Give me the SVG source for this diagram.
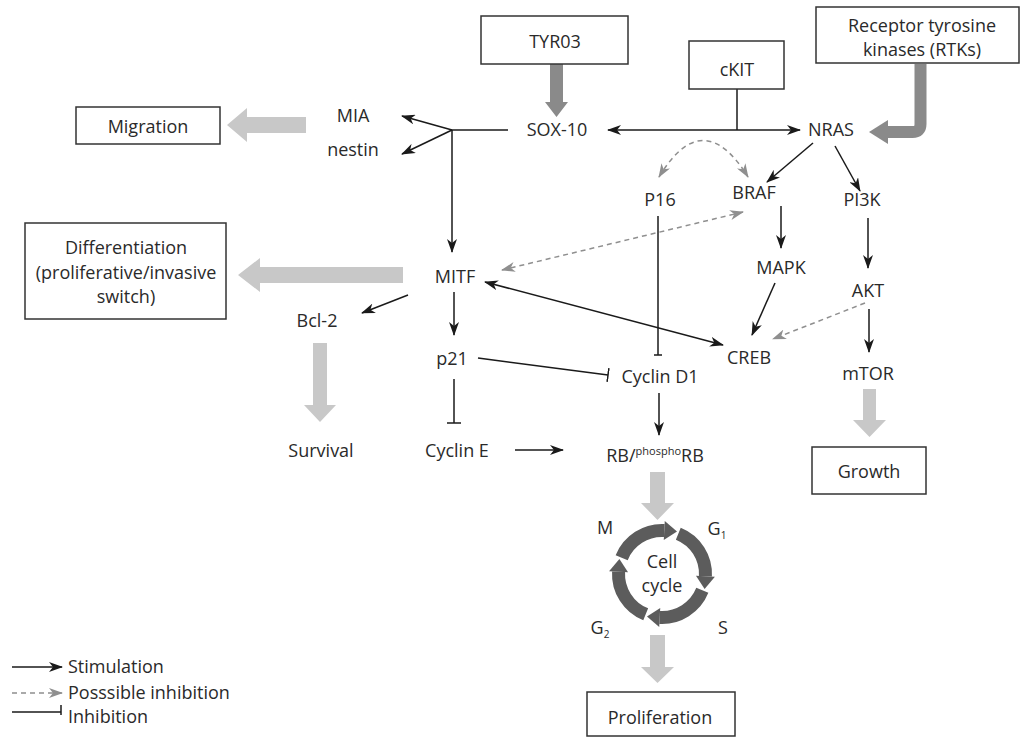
<svg xmlns="http://www.w3.org/2000/svg" xmlns:xlink="http://www.w3.org/1999/xlink" width="1027" height="738" viewBox="0 0 1027 738">
  <style>
    text { font-family: "Open Sans", "Liberation Sans", sans-serif; font-size: 18px; fill: #2a2a2a; text-anchor: middle; }
    .box { fill: #ffffff; stroke: #333333; stroke-width: 1.5; }
    .link { fill: none; stroke: #1a1a1a; stroke-width: 1.5; }
    .stim { marker-end: url(#arrow); }
    .both { marker-start: url(#arrow); marker-end: url(#arrow); }
    .inh { marker-end: url(#bar); }
    .dash { fill: none; stroke: #8f8f8f; stroke-width: 1.5; stroke-dasharray: 5 4; }
    .fat { fill: #c8c8c8; }
    .fatdark { fill: #8a8a8a; }
    .ring { fill: #5c5c5c; }
    .legend { text-anchor: start; }
  </style>
  <defs>
    <marker id="arrow" viewBox="0 0 14 10" refX="13" refY="5" markerWidth="14" markerHeight="10" markerUnits="userSpaceOnUse" orient="auto-start-reverse">
      <path d="M0,0 L14,5 L0,10 L4,5 z" fill="#1a1a1a"/>
    </marker>
    <marker id="garrow" viewBox="0 0 14 10" refX="13" refY="5" markerWidth="14" markerHeight="10" markerUnits="userSpaceOnUse" orient="auto-start-reverse">
      <path d="M0,0 L14,5 L0,10 L4,5 z" fill="#8f8f8f"/>
    </marker>
    <marker id="bar" viewBox="-1 -8 2 16" refX="0" refY="0" markerWidth="2" markerHeight="16" markerUnits="userSpaceOnUse" orient="auto">
      <path d="M0,-7 V7" stroke="#1a1a1a" stroke-width="1.5"/>
    </marker>
    <!-- one quarter of the cell-cycle ring: arc shaft plus curved arrowhead -->
    <g id="seg" class="ring">
      <path d="M-40.33,-16.30 A43.5,43.5 0 0 1 2.28,-43.44" fill="none" stroke="#5c5c5c" stroke-width="13"/>
      <polygon points="1.78,-33.95 2.77,-52.93 15,-42.6"/>
    </g>
  </defs>

  <rect width="1027" height="738" fill="#ffffff"/>

  <!-- connectors -->
  <g id="connectors">
    <path class="link" d="M508,130 H452"/>
    <path class="link stim" d="M452,130 L402,116"/>
    <path class="link stim" d="M452,130 L402,154"/>
    <path class="link stim" d="M452,130 V252"/>
    <path class="link both" d="M608,130 H800"/>
    <path class="link" d="M737,89 V130"/>
    <path class="link stim" d="M813,143 L767,182"/>
    <path class="link stim" d="M835,146 L860,191"/>
    <path class="link stim" d="M868,218 V268"/>
    <path class="link stim" d="M869,309 V352"/>
    <path class="link stim" d="M781,206 V248"/>
    <path class="link stim" d="M775,283 L752,335"/>
    <path class="link both" d="M485,282 L723,345"/>
    <path class="link stim" d="M454,292 V335"/>
    <path class="link stim" d="M408,295 L362,313"/>
    <path class="link inh" d="M478,358 L608,375"/>
    <path class="link" d="M658,216 V355"/>
    <path class="link" d="M654,355 H662"/>
    <path class="link inh" d="M454,379 V423"/>
    <path class="link stim" d="M515,450 H563"/>
    <path class="link stim" d="M659,393 V435"/>
    <path class="dash" d="M743,212 L502,270" marker-start="url(#garrow)" marker-end="url(#garrow)"/>
    <path class="dash" d="M865,303 L773,339" marker-end="url(#garrow)"/>
    <path class="dash" d="M659,177 Q703,104 748,177" marker-start="url(#garrow)" marker-end="url(#garrow)"/>

    <!-- broad arrows -->
    <polygon class="fatdark" points="550,64 563,64 563,102 568,102 556.5,117 545,102 550,102"/>
    <path d="M920.5,64 V124 Q920.5,132 912.5,132 H886" fill="none" stroke="#8a8a8a" stroke-width="12"/>
    <polygon class="fatdark" points="888,120 888,144 869,132"/>
    <polygon class="fat" points="306,117 247,117 247,108 227,125 247,142 247,133 306,133"/>
    <polygon class="fat" points="403,267 260,267 260,258 238,275 260,292 260,283 403,283"/>
    <polygon class="fat" points="313,343 327,343 327,405 336,405 320,422 304,405 313,405"/>
    <polygon class="fat" points="863,389 876,389 876,420 886,420 869.5,437 853,420 863,420"/>
    <polygon class="fat" points="650,472 665,472 665,503 674,503 657.5,520 641,503 650,503"/>
    <polygon class="fat" points="650,635 665,635 665,667 674,667 657.5,683 641,667 650,667"/>
  </g>

  <!-- boxed nodes -->
  <g id="tyr03"><rect class="box" x="481" y="16" width="147" height="48"/><text x="555" y="48">TYR03</text></g>
  <g id="ckit"><rect class="box" x="689" y="41" width="95" height="48"/><text x="737" y="76">cKIT</text></g>
  <g id="rtk"><rect class="box" x="816" y="7" width="203" height="56"/><text x="922" y="32">Receptor tyrosine</text><text x="922" y="56">kinases (RTKs)</text></g>
  <g id="migration"><rect class="box" x="76" y="107" width="144" height="37"/><text x="148" y="133">Migration</text></g>
  <g id="differentiation"><rect class="box" x="25" y="223" width="201" height="96"/><text x="126" y="254">Differentiation</text><text x="126" y="279">(proliferative/invasive</text><text x="126" y="303">switch)</text></g>
  <g id="growth"><rect class="box" x="812" y="447" width="114" height="47"/><text x="869" y="478">Growth</text></g>
  <g id="proliferation"><rect class="box" x="587" y="692" width="148" height="44"/><text x="660" y="724">Proliferation</text></g>

  <!-- plain nodes -->
  <g id="sox10"><text x="557" y="136">SOX-10</text></g>
  <g id="nras"><text x="831" y="136">NRAS</text></g>
  <g id="mia"><text x="353" y="122">MIA</text></g>
  <g id="nestin"><text x="353" y="156">nestin</text></g>
  <g id="p16"><text x="660" y="206">P16</text></g>
  <g id="braf"><text x="754" y="199">BRAF</text></g>
  <g id="pi3k"><text x="862" y="206">PI3K</text></g>
  <g id="mitf"><text x="455" y="283">MITF</text></g>
  <g id="mapk"><text x="781" y="274">MAPK</text></g>
  <g id="akt"><text x="868" y="297">AKT</text></g>
  <g id="creb"><text x="749" y="364">CREB</text></g>
  <g id="mtor"><text x="868" y="380">mTOR</text></g>
  <g id="bcl2"><text x="317" y="327">Bcl-2</text></g>
  <g id="p21"><text x="452" y="365">p21</text></g>
  <g id="cyclind1"><text x="660" y="383">Cyclin D1</text></g>
  <g id="survival"><text x="321" y="457">Survival</text></g>
  <g id="cycline"><text x="457" y="457">Cyclin E</text></g>
  <g id="rb"><text x="655" y="462">RB/<tspan font-size="11" dy="-7">phospho</tspan><tspan dy="7">RB</tspan></text></g>

  <!-- cell cycle -->
  <g id="cellcycle">
    <use xlink:href="#seg" transform="translate(662,574)"/>
    <use xlink:href="#seg" transform="translate(662,574) rotate(90)"/>
    <use xlink:href="#seg" transform="translate(662,574) rotate(180)"/>
    <use xlink:href="#seg" transform="translate(662,574) rotate(270)"/>
    <text x="662" y="568">Cell</text>
    <text x="662" y="592">cycle</text>
    <text x="605" y="534">M</text>
    <text x="717" y="535">G<tspan font-size="10" dy="4">1</tspan></text>
    <text x="723" y="634">S</text>
    <text x="600" y="634">G<tspan font-size="10" dy="4">2</tspan></text>
  </g>

  <!-- key -->
  <g id="legend">
    <path class="link stim" d="M12,667 H62"/>
    <path class="dash" d="M12,693 H62" marker-end="url(#garrow)"/>
    <path class="link" d="M12,712 H61"/>
    <path class="link" d="M61,705 V715"/>
    <text class="legend" x="68" y="673">Stimulation</text>
    <text class="legend" x="68" y="699">Posssible inhibition</text>
    <text class="legend" x="68" y="723">Inhibition</text>
  </g>
</svg>
